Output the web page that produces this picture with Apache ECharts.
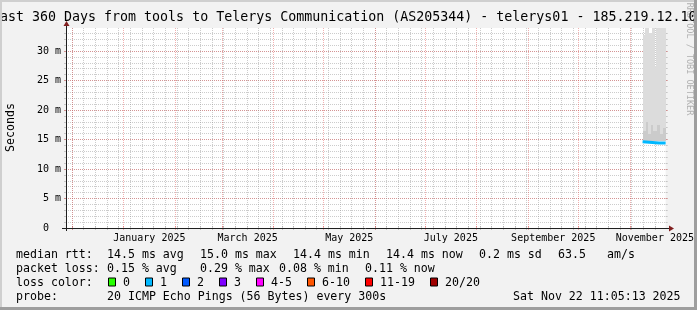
<!DOCTYPE html>
<html><head><meta charset="utf-8">
<script src="https://cdn.jsdelivr.net/npm/echarts@6/dist/echarts.min.js"></script>
<style>html,body{margin:0;padding:0;background:#f2f2f2}#c{width:697px;height:310px}</style>
</head><body><div id="c"></div>
<script>
// ---------------- data ----------------
const TITLE = 'ast 360 Days from tools to Telerys Communication (AS205344) - telerys01 - 185.219.12.10';
const END_TIME = '2025-11-22T11:05:13Z';
const RANGE_DAYS = 360;

const yMax = 33.9; // ms
const yMajorTicks = [0, 5, 10, 15, 20, 25, 30];
const yTickLabels = ['0  ', '5 m', '10 m', '15 m', '20 m', '25 m', '30 m'];

const monthLines = ['2024-12-01', '2025-01-01', '2025-02-01', '2025-03-01', '2025-04-01', '2025-05-01',
  '2025-06-01', '2025-07-01', '2025-08-01', '2025-09-01', '2025-10-01', '2025-11-01'];
const monthLabelMonths = ['2025-01', '2025-03', '2025-05', '2025-07', '2025-09', '2025-11'];
const monthLabelNames = ['January 2025', 'March 2025', 'May 2025', 'July 2025', 'September 2025', 'November 2025'];

// smoke (light) : column start, column end, low ms, high ms
const smokeFrom = ['2025-11-08T15:00Z', '2025-11-09T21:00Z', '2025-11-12T06:00Z', '2025-11-14T00:00Z', '2025-11-15T21:00Z', '2025-11-16T21:00Z'];
const smokeTo   = ['2025-11-09T21:00Z', '2025-11-12T06:00Z', '2025-11-14T00:00Z', '2025-11-15T21:00Z', '2025-11-16T21:00Z', '2025-11-22T11:05Z'];
const smokeLow  = [14.7, 14.7, 14.7, 14.7, 14.7, 14.7];
const smokeHigh = [32.7, 34.5, 33.0, 34.5, 27.4, 34.5];

// smoke (dense, darker) band
const denseFrom = ['2025-11-08T15:00Z', '2025-11-10T12:00Z', '2025-11-12T00:00Z', '2025-11-13T12:00Z', '2025-11-15T00:00Z', '2025-11-17T00:00Z', '2025-11-19T00:00Z', '2025-11-21T00:00Z'];
const denseTo   = ['2025-11-10T12:00Z', '2025-11-12T00:00Z', '2025-11-13T12:00Z', '2025-11-15T00:00Z', '2025-11-17T00:00Z', '2025-11-19T00:00Z', '2025-11-21T00:00Z', '2025-11-22T11:05Z'];
const denseLow  = [14.7, 14.7, 14.7, 14.7, 14.7, 14.7, 14.7, 14.7];
const denseHigh = [16.5, 18.0, 16.0, 17.5, 16.5, 17.5, 16.0, 17.0];

// median rtt line (loss colour 1)
const medianTimes  = ['2025-11-08T15:00Z', '2025-11-09T12:00Z', '2025-11-18T12:00Z', '2025-11-19T00:00Z', '2025-11-22T11:05Z'];
const medianValues = [14.6, 14.4, 14.5, 14.4, 14.4];

// legend rows
const statRow1 = [['median rtt:', 16], ['14.5 ms avg', 107], ['15.0 ms max', 200], ['14.4 ms min', 293], ['14.4 ms now', 386], ['0.2 ms sd', 479], ['63.5', 558], ['am/s', 607]];
const statRow2 = [['packet loss:', 16], ['0.15 % avg', 107], ['0.29 % max', 200], ['0.08 % min', 279], ['0.11 % now', 365]];
const lossNames  = ['0', '1', '2', '3', '4-5', '6-10', '11-19', '20/20'];
const lossColors = ['#26ff00', '#00b8ff', '#0059ff', '#7e00ff', '#ff00ff', '#ff5500', '#ff0000', '#a00000'];
const lossBoxX   = [108, 145, 182, 219, 256, 307, 365, 430];
const statRow4 = [['probe:', 16], ['20 ICMP Echo Pings (56 Bytes) every 300s', 107], ['Sat Nov 22 11:05:13 2025', 513]];

// ---------------- build ----------------
const DAY = 86400000;
const tp = s => Date.parse(s.length === 10 ? s + 'T00:00:00Z' : s);
const xMax = tp(END_TIME), xMin = xMax - RANGE_DAYS * DAY;
const G = { left: 66, top: 28, width: 600, height: 200 };

const GRID_C = 'rgba(143,143,143,0.45)';
const MGRID_C = 'rgba(222,79,79,0.45)';
const MONO = '"DejaVu Sans Mono", monospace';

// weekly minor lines (Sundays 00:00)
const weekly = [];
{
  let d = new Date(xMin); d.setUTCHours(0, 0, 0, 0);
  while (d.getUTCDay() !== 0) d = new Date(d.getTime() + DAY);
  for (let v = d.getTime(); v <= xMax; v += 7 * DAY) weekly.push(v);
}
const monthVals = monthLines.map(tp);
const labelVals = monthLabelMonths.map(m => {
  const a = tp(m + '-01'); const dt = new Date(a);
  const b = Date.UTC(dt.getUTCFullYear(), dt.getUTCMonth() + 1, 1);
  return (a + b) / 2;
});
const yMinor = []; for (let v = 0; v <= 33; v++) yMinor.push(v);

function xAx(pos, ticks, color, withLabel) {
  return {
    type: 'value', min: xMin, max: xMax, position: pos,
    axisLine: { show: false },
    axisTick: { show: true, customValues: ticks, length: 2, lineStyle: { color: color, width: 1 } },
    splitLine: { show: pos === 'bottom', lineStyle: { color: color, type: [1, 1], width: 1 } },
    axisLabel: withLabel ? {
      show: true, customValues: labelVals, margin: 4,
      formatter: v => monthLabelNames[labelVals.indexOf(v)] || '',
      fontFamily: MONO, fontSize: 10, color: '#000', lineHeight: 12
    } : { show: false }
  };
}
function yAx(pos, ticks, color, withLabel) {
  return {
    type: 'value', min: 0, max: yMax, position: pos,
    axisLine: { show: false },
    axisTick: { show: true, customValues: ticks, length: 2, lineStyle: { color: color, width: 1 } },
    splitLine: { show: pos === 'left', lineStyle: { color: color, type: [1, 1], width: 1 } },
    axisLabel: withLabel ? {
      show: true, customValues: yMajorTicks, margin: 5,
      formatter: v => yTickLabels[yMajorTicks.indexOf(v)],
      fontFamily: MONO, fontSize: 10, color: '#000'
    } : { show: false }
  };
}

const smokeData = smokeFrom.map((f, i) => [tp(f), tp(smokeTo[i]), smokeLow[i], smokeHigh[i]]);
const denseData = denseFrom.map((f, i) => [tp(f), tp(denseTo[i]), denseLow[i], denseHigh[i]]);
function rectRender(fill) {
  return function (params, api) {
    const a = api.coord([api.value(0), api.value(3)]);
    const b = api.coord([api.value(1), api.value(2)]);
    const xa = Math.round(a[0]), xb = Math.round(b[0]);
    const ya = Math.round(a[1]), yb2 = Math.round(b[1]);
    return { type: 'rect', shape: { x: xa, y: ya, width: xb - xa, height: yb2 - ya }, style: { fill: fill } };
  };
}

const graphics = [];
// frame shading
graphics.push({ type: 'rect', shape: { x: 0, y: 0, width: 697, height: 2 }, style: { fill: '#cfcfcf' }, z: 100 });
graphics.push({ type: 'rect', shape: { x: 0, y: 0, width: 2, height: 310 }, style: { fill: '#cfcfcf' }, z: 100 });
graphics.push({ type: 'rect', shape: { x: 0, y: 307, width: 697, height: 3 }, style: { fill: '#9e9e9e' }, z: 100 });
graphics.push({ type: 'rect', shape: { x: 694, y: 0, width: 3, height: 310 }, style: { fill: '#9e9e9e' }, z: 100 });
// watermark
graphics.push({ type: 'text', x: 689.5, y: 59, rotation: -Math.PI / 2, z: 5,
  style: { text: 'RRDTOOL / TOBI OETIKER', font: '8.5px ' + MONO, fill: '#b0b0b0', align: 'center', verticalAlign: 'middle' } });
// title
graphics.push({ type: 'text', x: 0, y: 18, z: 10, style: { text: TITLE, font: '13.3px ' + MONO, fill: '#000', align: 'left', verticalAlign: 'middle' } });
// y title
graphics.push({ type: 'text', x: 10.5, y: 127.5, rotation: Math.PI / 2, z: 10,
  style: { text: 'Seconds', font: '11.6px ' + MONO, fill: '#000', align: 'center', verticalAlign: 'middle' } });
// axes lines + arrows
const AX = '#1f1f1f', AR = '#801f1f';
const x0 = G.left, yb = G.top + G.height;
graphics.push({ type: 'line', shape: { x1: x0 - 4, y1: yb + 0.5, x2: G.left + G.width + 3, y2: yb + 0.5 }, style: { stroke: AX, lineWidth: 1 }, z: 50 });
graphics.push({ type: 'line', shape: { x1: x0 + 0.5, y1: yb + 3, x2: x0 + 0.5, y2: G.top - 2 }, style: { stroke: AX, lineWidth: 1 }, z: 50 });
graphics.push({ type: 'polygon', shape: { points: [[G.left + G.width + 3, yb - 2.5], [G.left + G.width + 8, yb + 0.5], [G.left + G.width + 3, yb + 3.5]] }, style: { fill: AR }, z: 51 });
graphics.push({ type: 'polygon', shape: { points: [[x0 - 2.5, G.top - 2], [x0 + 0.5, G.top - 7], [x0 + 3.5, G.top - 2]] }, style: { fill: AR }, z: 51 });

// legend
const ROWS = [254.5, 268.5, 282.5, 296.5];
const LF = '11.6px ' + MONO;
function addRow(items, y) { items.forEach(([s, x]) => graphics.push({ type: 'text', x: x, y: y, z: 10, style: { text: s, font: LF, fill: '#000', align: 'left', verticalAlign: 'middle' } })); }
addRow(statRow1, ROWS[0]);
addRow(statRow2, ROWS[1]);
addRow([['loss color:', 16]], ROWS[2]);
lossNames.forEach((n, i) => {
  graphics.push({ type: 'rect', shape: { x: lossBoxX[i] + 0.5, y: ROWS[2] - 4.5, width: 7, height: 8 }, style: { fill: lossColors[i], stroke: '#000', lineWidth: 1 }, z: 10 });
  graphics.push({ type: 'text', x: lossBoxX[i] + 15, y: ROWS[2], z: 10, style: { text: n, font: LF, fill: '#000', align: 'left', verticalAlign: 'middle' } });
});
addRow(statRow4, ROWS[3]);

const option = {
  backgroundColor: '#f2f2f2',
  animation: false,
  grid: { left: G.left, top: G.top, width: G.width, height: G.height, show: true, backgroundColor: '#ffffff', borderWidth: 0, containLabel: false },
  xAxis: [xAx('bottom', weekly, GRID_C, false), xAx('bottom', monthVals, MGRID_C, true), xAx('top', weekly, GRID_C, false), xAx('top', monthVals, MGRID_C, false)],
  yAxis: [yAx('left', yMinor, GRID_C, false), yAx('left', yMajorTicks, MGRID_C, true), yAx('right', yMinor, GRID_C, false), yAx('right', yMajorTicks, MGRID_C, false)],
  series: [
    { type: 'custom', name: 'smoke', xAxisIndex: 1, yAxisIndex: 1, clip: true, data: smokeData, encode: { x: [0, 1], y: [2, 3] }, renderItem: rectRender('#dcdcdc'), z: 3 },
    { type: 'custom', name: 'dense', xAxisIndex: 1, yAxisIndex: 1, clip: true, data: denseData, encode: { x: [0, 1], y: [2, 3] }, renderItem: rectRender('#cbcbcb'), z: 4 },
    { type: 'line', name: 'median', xAxisIndex: 1, yAxisIndex: 1, step: 'end', showSymbol: false, clip: true,
      data: medianTimes.map((t, i) => [tp(t), medianValues[i]]), lineStyle: { color: '#00b8ff', width: 3 }, z: 6 }
  ],
  graphic: graphics
};
const chart = echarts.init(document.getElementById('c'), null, { renderer: 'canvas', width: 697, height: 310 });
chart.setOption(option);
</script>
</body></html>
